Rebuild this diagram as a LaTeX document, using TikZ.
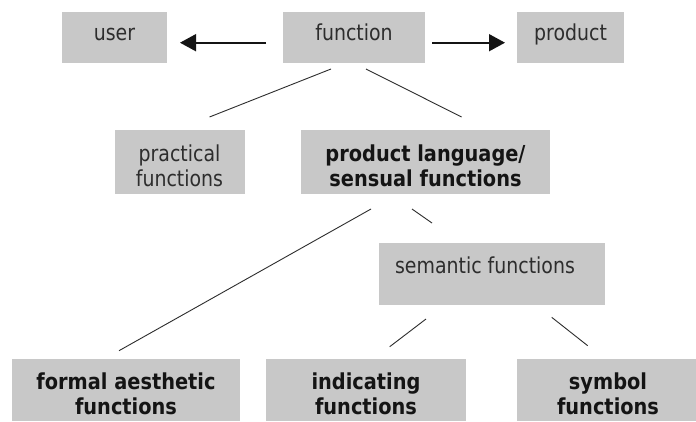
\documentclass[tikz,border=0pt]{standalone}
\usepackage{fontspec}
\setmainfont{DejaVu Sans}[FakeStretch=0.86,BoldFeatures={FakeStretch=0.88}]
\usetikzlibrary{arrows.meta}
\definecolor{boxgray}{RGB}{200,200,200}
\definecolor{ink}{RGB}{45,45,45}
\definecolor{bink}{RGB}{20,20,20}
\begin{document}
\begin{tikzpicture}[x=1pt,y=-1pt,
  boxfill/.style={fill=boxgray,draw=none},
  lbl/.style={text=ink,font=\fontsize{22}{25}\selectfont,align=center,inner sep=0pt,anchor=base},
  blbl/.style={lbl,text=bink,font=\fontsize{22}{25}\selectfont\bfseries},
  conn/.style={draw=ink,line width=0.9pt},
  arr/.style={draw=bink,line width=1.7pt,-{Triangle[length=16pt,width=17pt]}}]
\useasboundingbox[fill=white] (0,0) rectangle (696,421);
% boxes
\fill[boxfill] (62,12) rectangle (167,63);
\fill[boxfill] (283,12) rectangle (425,63);
\fill[boxfill] (517,12) rectangle (624,63);
\fill[boxfill] (115,130) rectangle (245,194);
\fill[boxfill] (301,130) rectangle (550,194);
\fill[boxfill] (379,243) rectangle (605,305);
\fill[boxfill] (12,359) rectangle (240,421);
\fill[boxfill] (266,359) rectangle (466,421);
\fill[boxfill] (517,359) rectangle (696,421);
% labels (multi-line: base = last line)
\node[lbl] (user) at (114.5,40.5) {user};
\node[lbl] (function) at (354,40.5) {function};
\node[lbl] (product) at (570.5,40.5) {product};
\node[lbl] (practical) at (179.5,186) {practical\\functions};
\node[blbl] (prodlang) at (425.5,186) {product language/\\sensual functions};
\node[lbl] (semantic) at (485,273) {semantic functions};
\node[blbl] (formal) at (126,414) {formal aesthetic\\functions};
\node[blbl] (indicating) at (366,414) {indicating\\functions};
\node[blbl] (symbol) at (608,414) {symbol\\functions};
% connector end points
\coordinate (fL) at (266,42.7);
\coordinate (uR) at (180,42.7);
\coordinate (fR) at (432,42.7);
\coordinate (pL) at (505,42.7);
\coordinate (f1) at (331,69);
\coordinate (pr1) at (209.5,117);
\coordinate (f2) at (366,69);
\coordinate (pl1) at (461.6,117);
\coordinate (pl2) at (371,209);
\coordinate (fo1) at (119,350.7);
\coordinate (pl3) at (412,209);
\coordinate (se1) at (432,223);
\coordinate (se2) at (426,319);
\coordinate (in1) at (389.7,346.7);
\coordinate (se3) at (551.7,317.3);
\coordinate (sy1) at (587.7,345.7);
% connectors
\draw[arr] (fL) -- (uR);
\draw[arr] (fR) -- (pL);
\draw[conn] (f1) -- (pr1);
\draw[conn] (f2) -- (pl1);
\draw[conn] (pl2) -- (fo1);
\draw[conn] (pl3) -- (se1);
\draw[conn] (se2) -- (in1);
\draw[conn] (se3) -- (sy1);
\end{tikzpicture}
\end{document}
